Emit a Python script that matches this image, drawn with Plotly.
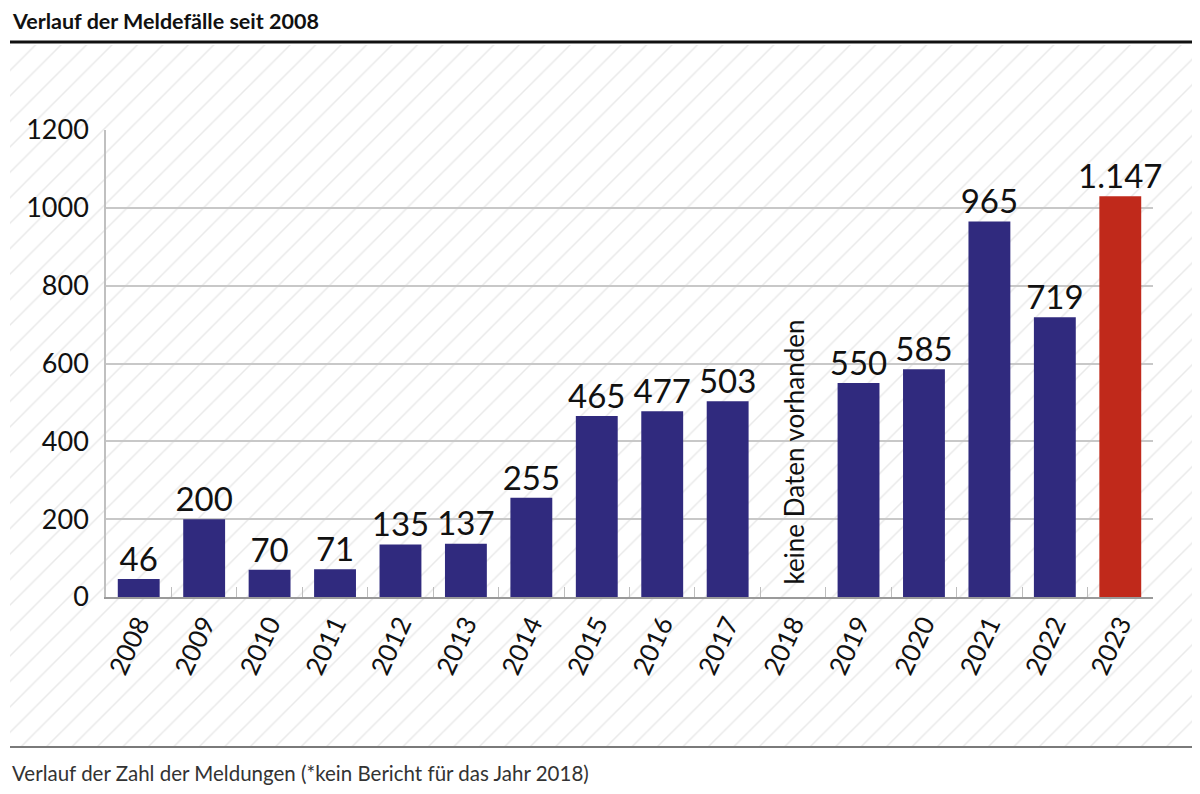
import plotly.graph_objects as go

# data
years = ["2008", "2009", "2010", "2011", "2012", "2013", "2014", "2015",
         "2016", "2017", "2018", "2019", "2020", "2021", "2022", "2023"]
bar_heights = [46, 200, 70, 71, 135, 137, 255, 465, 477, 503, None, 550, 585, 965, 719, 1030]
value_labels = ["46", "200", "70", "71", "135", "137", "255", "465",
                "477", "503", "", "550", "585", "965", "719", "1.147"]
y_ticks = [0, 200, 400, 600, 800, 1000, 1200]
missing_year = "2018"

NAVY = "#302a7e"
RED = "#c0291b"
FONT = "Lato"

W, H = 1200, 794
OFF = 8  # page body margin the browser adds around the plot


def px_x(p):
    return (p - OFF) / W


def px_y(p):
    return 1 - (p - OFF) / H


bar_colors = [RED if y == "2023" else NAVY for y in years]
label_years = [y for y, v in zip(years, bar_heights) if v is not None]
label_heights = [v for v in bar_heights if v is not None]
label_texts = [t for t, v in zip(value_labels, bar_heights) if v is not None]

fig = go.Figure()

# hatched background panel (drawn in its own subplot, underneath the bars)
fig.add_trace(go.Scatter(
    x=[0, 1, 1, 0, 0], y=[0, 0, 1, 1, 0],
    mode="lines", line=dict(width=0),
    fill="toself", fillcolor="white",
    fillpattern=dict(shape="/", size=18, solidity=0.08,
                     fgcolor="#d3d3d3", bgcolor="white"),
    hoverinfo="skip", showlegend=False,
    xaxis="x", yaxis="y",
))

fig.add_trace(go.Bar(
    x=years, y=bar_heights,
    marker=dict(color=bar_colors, line=dict(width=0)),
    width=0.64,
    showlegend=False,
    xaxis="x2", yaxis="y2",
))

# value labels above the bars (scatter text keeps a fixed size)
fig.add_trace(go.Scatter(
    x=label_years, y=label_heights, text=label_texts,
    mode="text", textposition="top center", cliponaxis=False,
    textfont=dict(family=FONT, size=33, color="#111111"),
    hoverinfo="skip", showlegend=False,
    xaxis="x2", yaxis="y2",
))

fig.update_layout(
    width=W, height=H,
    margin=dict(l=0, r=0, t=0, b=0, autoexpand=False),
    paper_bgcolor="white",
    plot_bgcolor="rgba(0,0,0,0)",
    font=dict(family=FONT, color="#111111"),
    xaxis=dict(domain=[px_x(10), px_x(1198)], range=[0, 1], visible=False, fixedrange=True),
    yaxis=dict(domain=[px_y(747), px_y(45)], range=[0, 1], visible=False, fixedrange=True),
    xaxis2=dict(
        domain=[px_x(106), px_x(1153)], anchor="y2",
        type="category", categoryorder="array", categoryarray=years,
        range=[-0.5, len(years) - 0.5],
        tickangle=-65, tickfont=dict(family=FONT, size=26, color="#111111"),
        ticks="inside", tickson="boundaries", ticklen=10, tickcolor="#bdbdbd",
        showline=True, linecolor="#9a9a9a", linewidth=1.5,
        showgrid=False,
    ),
    yaxis2=dict(
        domain=[px_y(597), px_y(130)], anchor="x2",
        range=[0, 1200], tickvals=y_ticks,
        tickfont=dict(family=FONT, size=27, color="#111111"),
        ticklabelstandoff=10,
        showgrid=True, gridcolor="#c8c8c8", gridwidth=1.5,
        showline=True, linecolor="#c0c0c0", linewidth=1.5,
        zeroline=False,
    ),
    shapes=[
        dict(type="line", xref="paper", yref="paper",
             x0=px_x(10), x1=1, y0=px_y(42), y1=px_y(42),
             line=dict(color="#111111", width=3)),
        dict(type="line", xref="paper", yref="paper",
             x0=px_x(10), x1=px_x(1198), y0=px_y(747), y1=px_y(747),
             line=dict(color="#7a7a7a", width=2)),
    ],
    annotations=[
        dict(text="<b>Verlauf der Meldefälle seit 2008</b>", xref="paper", yref="paper",
             x=px_x(10), y=px_y(21), xanchor="left", yanchor="middle", showarrow=False,
             font=dict(family=FONT, size=21.5, color="#111111")),
        dict(text="Verlauf der Zahl der Meldungen (*kein Bericht für das Jahr 2018)",
             xref="paper", yref="paper",
             x=px_x(10), y=px_y(773), xanchor="left", yanchor="middle", showarrow=False,
             font=dict(family=FONT, size=20.5, color="#333333")),
        dict(text="keine Daten vorhanden", xref="x2", yref="y2",
             x=years.index(missing_year), y=0, xanchor="center", yanchor="bottom", yshift=10,
             textangle=-90, showarrow=False,
             font=dict(family=FONT, size=26, color="#111111")),
    ],
)

fig.write_html("out.html")
